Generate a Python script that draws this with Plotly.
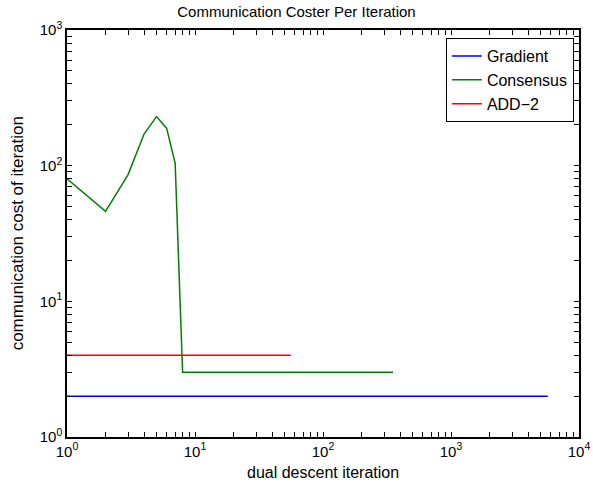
import plotly.graph_objects as go

grad_x = [1, 5700]
grad_y = [2, 2]
cons_x = [1, 2, 3, 4, 5, 6, 7, 8, 352]
cons_y = [80, 46, 86, 171, 230, 189, 104, 3, 3]
add_x = [1, 56]
add_y = [4, 4]

x_decades = [1, 10, 100, 1000, 10000]
x_decade_labels = ["10<sup>0</sup>", "10<sup>1</sup>", "10<sup>2</sup>", "10<sup>3</sup>", "10<sup>4</sup>"]
y_decades = [1, 10, 100, 1000]
y_decade_labels = ["10<sup>0</sup>", "10<sup>1</sup>", "10<sup>2</sup>", "10<sup>3</sup>"]


def log_ticks(decades, labels):
    vals, texts = [], []
    for i, d in enumerate(decades):
        vals.append(d)
        texts.append(labels[i])
        if i < len(decades) - 1:
            for m in range(2, 10):
                vals.append(m * d)
                texts.append("")
    return vals, texts


xv, xt = log_ticks(x_decades, x_decade_labels)
yv, yt = log_ticks(y_decades, y_decade_labels)

fig = go.Figure()
fig.add_trace(go.Scatter(x=grad_x, y=grad_y, mode="lines", name="Gradient",
                         line=dict(color="#0000ff", width=1.5)))
fig.add_trace(go.Scatter(x=cons_x, y=cons_y, mode="lines", name="Consensus",
                         line=dict(color="#008000", width=1.5)))
fig.add_trace(go.Scatter(x=add_x, y=add_y, mode="lines", name="ADD\u22122",
                         line=dict(color="#ff0000", width=1.5)))

font = "Liberation Sans, Arial, Helvetica, sans-serif"
axis_common = dict(type="log", showgrid=False, zeroline=False, showline=True,
                   linecolor="black", linewidth=1.5, mirror="allticks",
                   ticks="inside", ticklen=5, tickcolor="black", tickwidth=1,
                   automargin=False, tickfont=dict(size=15, color="black"))

fig.update_layout(
    width=593, height=485,
    margin=dict(l=67, r=14, t=30, b=48, autoexpand=False),
    paper_bgcolor="white", plot_bgcolor="white",
    font=dict(family=font, color="black", size=14),
    title=dict(text="Communication Coster Per Iteration", x=0.5, xanchor="center",
               y=0.975, yanchor="middle", font=dict(size=15, color="black")),
    xaxis=dict(range=[0, 4], tickvals=xv, ticktext=xt, **axis_common),
    yaxis=dict(range=[0, 3], tickvals=yv, ticktext=yt, **axis_common),
    legend=dict(x=0.99, y=0.98, xanchor="right", yanchor="top",
                bordercolor="black", borderwidth=1, bgcolor="white",
                font=dict(size=16, color="black"), tracegroupgap=0),
    showlegend=True,
    annotations=[
        dict(text="dual descent iteration", xref="paper", yref="paper",
             x=0.5, y=-0.086, xanchor="center", yanchor="middle", showarrow=False,
             font=dict(size=16, color="black")),
        dict(text="communication cost of iteration", xref="paper", yref="paper",
             x=-0.096, y=0.5, xanchor="center", yanchor="middle", textangle=-90,
             showarrow=False, font=dict(size=17, color="black")),
    ],
)

fig.write_html("out.html", config={"displayModeBar": False},
               post_script="document.body.style.margin='0';")
